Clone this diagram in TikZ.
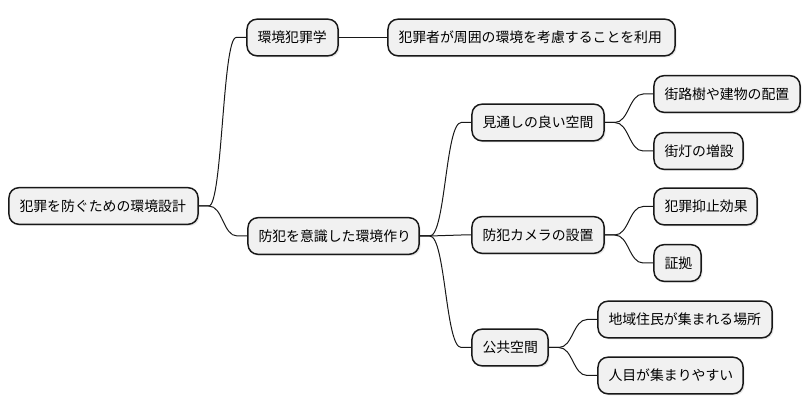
\documentclass[tikz,border=0pt]{standalone}
\usepackage{fontspec}
\newfontfamily\jp{Noto Sans CJK JP}
\usetikzlibrary{calc,shadows}
\definecolor{lineC}{HTML}{181818}
\definecolor{fillC}{HTML}{F1F1F1}
\tikzset{
  box/.style={draw=lineC, fill=fillC, line width=1.1pt, rounded corners=7.5pt,
    inner ysep=0pt, inner xsep=7.9pt, text width=(#1-21)*0.75pt, align=left,
    minimum width=#1*0.75pt, minimum height=27.5pt,
    font=\jp\fontsize{10.4}{12}\selectfont, text=black,
    drop shadow={shadow xshift=1.2pt, shadow yshift=-1.2pt, opacity=0.18}},
  conn/.style={draw=lineC, line width=0.75pt}
}
\newcommand\mmlink[2]{%
  \path (#1.east) ++(7.5pt,0) coordinate (s-#1-#2)
        (#2.west) ++(-7.5pt,0) coordinate (e-#1-#2);
  \draw[conn] let \p1=(s-#1-#2), \p2=(e-#1-#2) in
    (#1.east) -- (\p1) .. controls ({(\x1+\x2)/2},\y1) and ({(\x1+\x2)/2},\y2) .. (\p2) -- (#2.west);
}
\begin{document}
\begin{tikzpicture}[x=0.75pt,y=-0.75pt]
\useasboundingbox (0,0) rectangle (811,416);
\node[box=189] (root) at (103.5,206) {犯罪を防ぐための環境設計};
\node[box=91]  (kank) at (292.5,37.5) {環境犯罪学};
\node[box=287] (kyo)  at (531.5,37.5) {犯罪者が周囲の環境を考慮することを利用};
\node[box=171] (bou)  at (333.5,236) {防犯を意識した環境作り};
\node[box=132] (mit)  at (538,122.5) {見通しの良い空間};
\node[box=146] (gai)  at (727,94) {街路樹や建物の配置};
\node[box=89]  (gait) at (698.5,151) {街灯の増設};
\node[box=132] (cam)  at (538,235) {防犯カメラの設置};
\node[box=103] (yok)  at (705.5,206.5) {犯罪抑止効果};
\node[box=47]  (sho)  at (677.5,263) {証拠};
\node[box=76]  (kou)  at (510,347.5) {公共空間};
\node[box=174] (chi)  at (685,319.5) {地域住民が集まれる場所};
\node[box=145] (hit)  at (670.5,375.5) {人目が集まりやすい};
\mmlink{root}{kank}
\mmlink{root}{bou}
\draw[conn] (kank.east) -- (kyo.west);
\mmlink{bou}{mit}
\mmlink{bou}{cam}
\mmlink{bou}{kou}
\mmlink{mit}{gai}
\mmlink{mit}{gait}
\mmlink{cam}{yok}
\mmlink{cam}{sho}
\mmlink{kou}{chi}
\mmlink{kou}{hit}
\end{tikzpicture}
\end{document}
